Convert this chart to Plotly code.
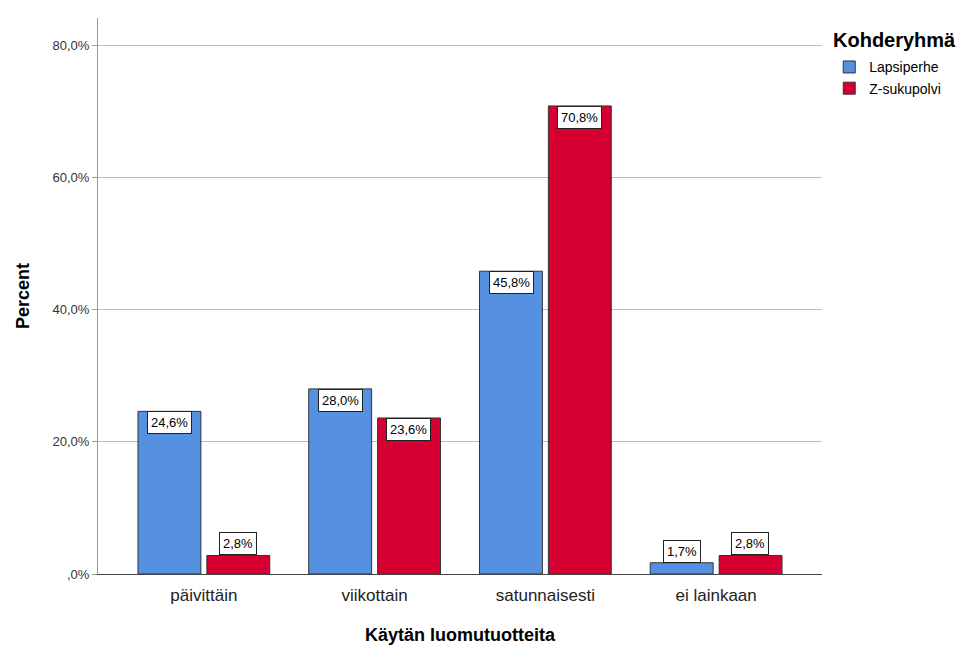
import plotly.graph_objects as go

categories = ["päivittäin", "viikottain", "satunnaisesti", "ei lainkaan"]
lapsiperhe = [24.6, 28.0, 45.8, 1.7]
z_sukupolvi = [2.8, 23.6, 70.8, 2.8]
series_names = ["Lapsiperhe", "Z-sukupolvi"]
y_ticks = [0, 20, 40, 60, 80]
y_tick_labels = [",0%", "20,0%", "40,0%", "60,0%", "80,0%"]

colors = ["#5591E0", "#D50031"]
FONT = "Liberation Sans, Arial, sans-serif"

fig = go.Figure()
for name, vals, col in zip(series_names, [lapsiperhe, z_sukupolvi], colors):
    fig.add_trace(go.Bar(
        x=categories, y=vals, name=name,
        marker=dict(color=col, line=dict(color="#333333", width=1)),
    ))

# value labels: inside the top of tall bars, above short ones
bar_half_offset = 0.2
for si, vals in enumerate([lapsiperhe, z_sukupolvi]):
    off = -bar_half_offset if si == 0 else bar_half_offset
    for ci, v in enumerate(vals):
        label = f"{v:.1f}%".replace(".", ",")
        inside = v > 10
        fig.add_annotation(
            x=ci + off, y=v, xref="x", yref="y",
            text=label, showarrow=False,
            yanchor="top" if inside else "bottom",
            yshift=0,
            font=dict(family=FONT, size=13, color="#000000"),
            bgcolor="#FFFFFF", bordercolor="#222222", borderwidth=1, borderpad=3,
        )

# legend heading
fig.add_annotation(
    x=1.013, y=1.0, xref="paper", yref="paper",
    xanchor="left", yanchor="top", yshift=-9,
    text="<b>Kohderyhmä</b>", showarrow=False,
    font=dict(family=FONT, size=20, color="#000000"),
)

fig.update_layout(
    width=963, height=649,
    margin=dict(l=98, r=141, t=18, b=75),
    paper_bgcolor="white", plot_bgcolor="white",
    barmode="group", bargap=0.193, bargroupgap=0.087,
    font=dict(family=FONT, color="#000000"),
    showlegend=True,
    legend=dict(
        x=1.01, y=0.94, xanchor="left", yanchor="top",
        font=dict(size=14, family=FONT),
        tracegroupgap=0, itemwidth=30,
    ),
    xaxis=dict(
        type="category", range=[-0.62, 3.62], automargin=False,
        showline=True, linecolor="#444444", linewidth=1,
        ticks="outside", ticklen=6, tickcolor="rgba(0,0,0,0)",
        tickfont=dict(size=17, color="#222222"),
        title=dict(text="<b>Käytän luomutuotteita</b>", font=dict(size=18), standoff=23),
    ),
    yaxis=dict(
        range=[0, 84.1], automargin=False,
        tickvals=y_ticks, ticktext=y_tick_labels,
        showgrid=True, gridcolor="#BDBDBD", gridwidth=1,
        showline=True, linecolor="#999999", linewidth=1,
        ticks="outside", ticklen=5, tickcolor="#999999",
        tickfont=dict(size=13, color="#333333"),
        zeroline=False,
        title=dict(text="<b>Percent</b>", font=dict(size=18), standoff=18),
    ),
)

fig.write_html("out.html")
